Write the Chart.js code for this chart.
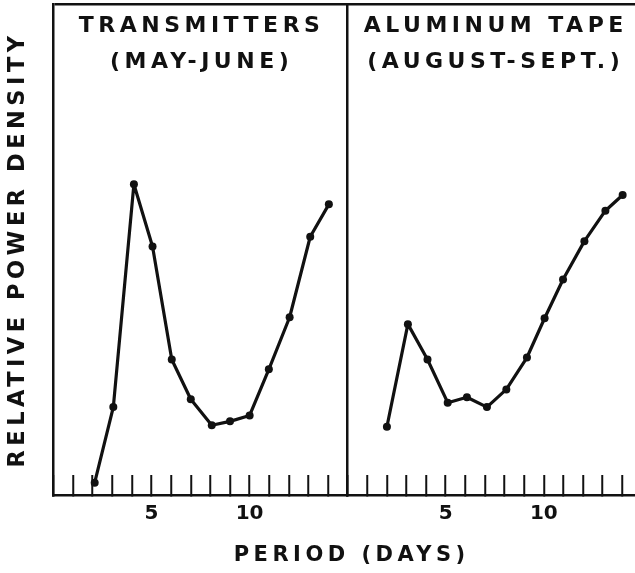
<!DOCTYPE html>
<html>
<head>
<meta charset="utf-8">
<script src="https://cdn.jsdelivr.net/npm/chart.js@4/dist/chart.umd.min.js"></script>
<style>
  html, body { margin: 0; padding: 0; background: #fff; overflow: hidden; }
  #c { display: block; }
</style>
</head>
<body>
<canvas id="c" width="635" height="573"></canvas>
<script>
// ---- data ----
const PERIOD_LEFT = [2.1, 3.05, 4.1, 5.05, 6.03, 7.0, 8.07, 9.0, 10.0, 10.98, 12.04, 13.09, 14.04];
const POWER_LEFT  = [2.5, 17.9, 63.3, 50.6, 27.6, 19.5, 14.2, 15.0, 16.2, 25.6, 36.2, 52.6, 59.2];

const PERIOD_RIGHT = [2.0, 3.07, 4.07, 5.1, 6.08, 7.1, 8.09, 9.14, 10.04, 10.98, 12.07, 13.14, 14.02];
const POWER_RIGHT  = [13.9, 34.8, 27.6, 18.8, 19.9, 17.9, 21.5, 28.0, 36.0, 43.9, 51.7, 57.9, 61.1];

const TITLE_LEFT  = ['TRANSMITTERS', '(MAY-JUNE)'];
const TITLE_RIGHT = ['ALUMINUM TAPE', '(AUGUST-SEPT.)'];
const LABELED_TICKS = [5, 10];
const Y_TITLE = 'RELATIVE POWER DENSITY';
const X_TITLE = 'PERIOD (DAYS)';

const LEFT_MAX = 15;      // period range of the left panel
const RIGHT_MAX = 14.65;  // visible period range of the right panel
const PANEL_SPAN = 15;

const FONT = '"DejaVu Sans", "Liberation Sans", sans-serif';
const INK = '#111';
const SPACING = '4.5px';

// wide lettering for titles, normal spacing for tick numbers
const letterSpacingPlugin = {
  id: 'letterSpacing',
  beforeDraw(chart) { chart.ctx.letterSpacing = SPACING; },
  beforeDatasetsDraw(chart) { chart.ctx.letterSpacing = '0px'; }
};

const panelTitles = {
  id: 'panelTitles',
  afterDraw(chart) {
    const ctx = chart.ctx;
    const area = chart.chartArea;
    ctx.save();
    ctx.letterSpacing = SPACING;
    ctx.fillStyle = INK;
    ctx.textAlign = 'center';
    ctx.textBaseline = 'middle';
    ctx.font = 'bold 22px ' + FONT;
    [['xL', TITLE_LEFT], ['xR', TITLE_RIGHT]].forEach(([id, lines]) => {
      const s = chart.scales[id];
      const cx = s.getPixelForValue(PANEL_SPAN / 2) + 1;
      lines.forEach((t, i) => ctx.fillText(t, cx, area.top + 22 + i * 36));
    });
    // common x-axis title, centred under the panel divide
    ctx.font = 'bold 21px ' + FONT;
    ctx.fillText(X_TITLE, chart.scales.xR.getPixelForValue(0) + 4, area.bottom + 61);
    ctx.restore();
  }
};

const toPoints = (xs, ys) => xs.map((x, i) => ({ x, y: ys[i] }));

const tickFont = { family: FONT, size: 20, weight: 'bold', lineHeight: 3.9 };
const isInt = v => Math.abs(v - Math.round(v)) < 1e-6;

function xScale(max, weight, showDivider) {
  return {
    type: 'linear',
    position: 'bottom',
    stack: 'panels',
    stackWeight: weight,
    min: 0,
    max: max,
    border: { display: true, color: INK, width: 2.5 },
    grid: {
      drawOnChartArea: true,
      drawTicks: true,
      tickLength: -20,
      tickWidth: 2,
      lineWidth: 2.5,
      color: c => (showDivider && c.tick && c.tick.value === 0) ? INK : 'rgba(0,0,0,0)',
      tickColor: c => (c.tick && isInt(c.tick.value)) ? INK : 'rgba(0,0,0,0)'
    },
    ticks: {
      z: 1,
      stepSize: 1,
      includeBounds: false,
      autoSkip: false,
      maxRotation: 0,
      minRotation: 0,
      padding: 0,
      color: INK,
      font: tickFont,
      callback: v => LABELED_TICKS.includes(v) ? String(v) : ''
    }
  };
}

const lineStyle = {
  borderColor: INK, backgroundColor: INK,
  borderWidth: 3.2, borderJoinStyle: 'round', borderCapStyle: 'round',
  pointRadius: 4, pointBackgroundColor: INK, pointBorderWidth: 0,
  tension: 0, fill: false
};

new Chart(document.getElementById('c'), {
  type: 'line',
  data: {
    datasets: [
      Object.assign({
        label: TITLE_LEFT.join(' '),
        data: toPoints(PERIOD_LEFT, POWER_LEFT),
        xAxisID: 'xL', yAxisID: 'y'
      }, lineStyle),
      Object.assign({
        label: TITLE_RIGHT.join(' '),
        data: toPoints(PERIOD_RIGHT, POWER_RIGHT),
        xAxisID: 'xR', yAxisID: 'y'
      }, lineStyle)
    ]
  },
  options: {
    responsive: false,
    animation: false,
    devicePixelRatio: 1,
    layout: { autoPadding: false, padding: { top: 4, left: 0, right: 0, bottom: 20 } },
    plugins: {
      legend: { display: false },
      tooltip: { enabled: false },
      title: { display: false }
    },
    scales: {
      xL: xScale(LEFT_MAX, LEFT_MAX, false),
      xR: xScale(RIGHT_MAX, RIGHT_MAX, true),
      y: {
        type: 'linear',
        position: 'left',
        min: 0,
        max: 100,
        border: { display: true, color: INK, width: 2.5 },
        grid: {
          drawTicks: false,
          lineWidth: 2.5,
          color: c => (c.tick && c.tick.value === 100) ? INK : 'rgba(0,0,0,0)'
        },
        ticks: { display: false, stepSize: 100 },
        title: {
          display: true,
          text: Y_TITLE,
          color: INK,
          font: { family: FONT, size: 22.5, weight: 'bold', lineHeight: 1.2 },
          padding: { top: 5, bottom: 21.5 }
        }
      }
    }
  },
  plugins: [letterSpacingPlugin, panelTitles]
});
</script>
</body>
</html>
